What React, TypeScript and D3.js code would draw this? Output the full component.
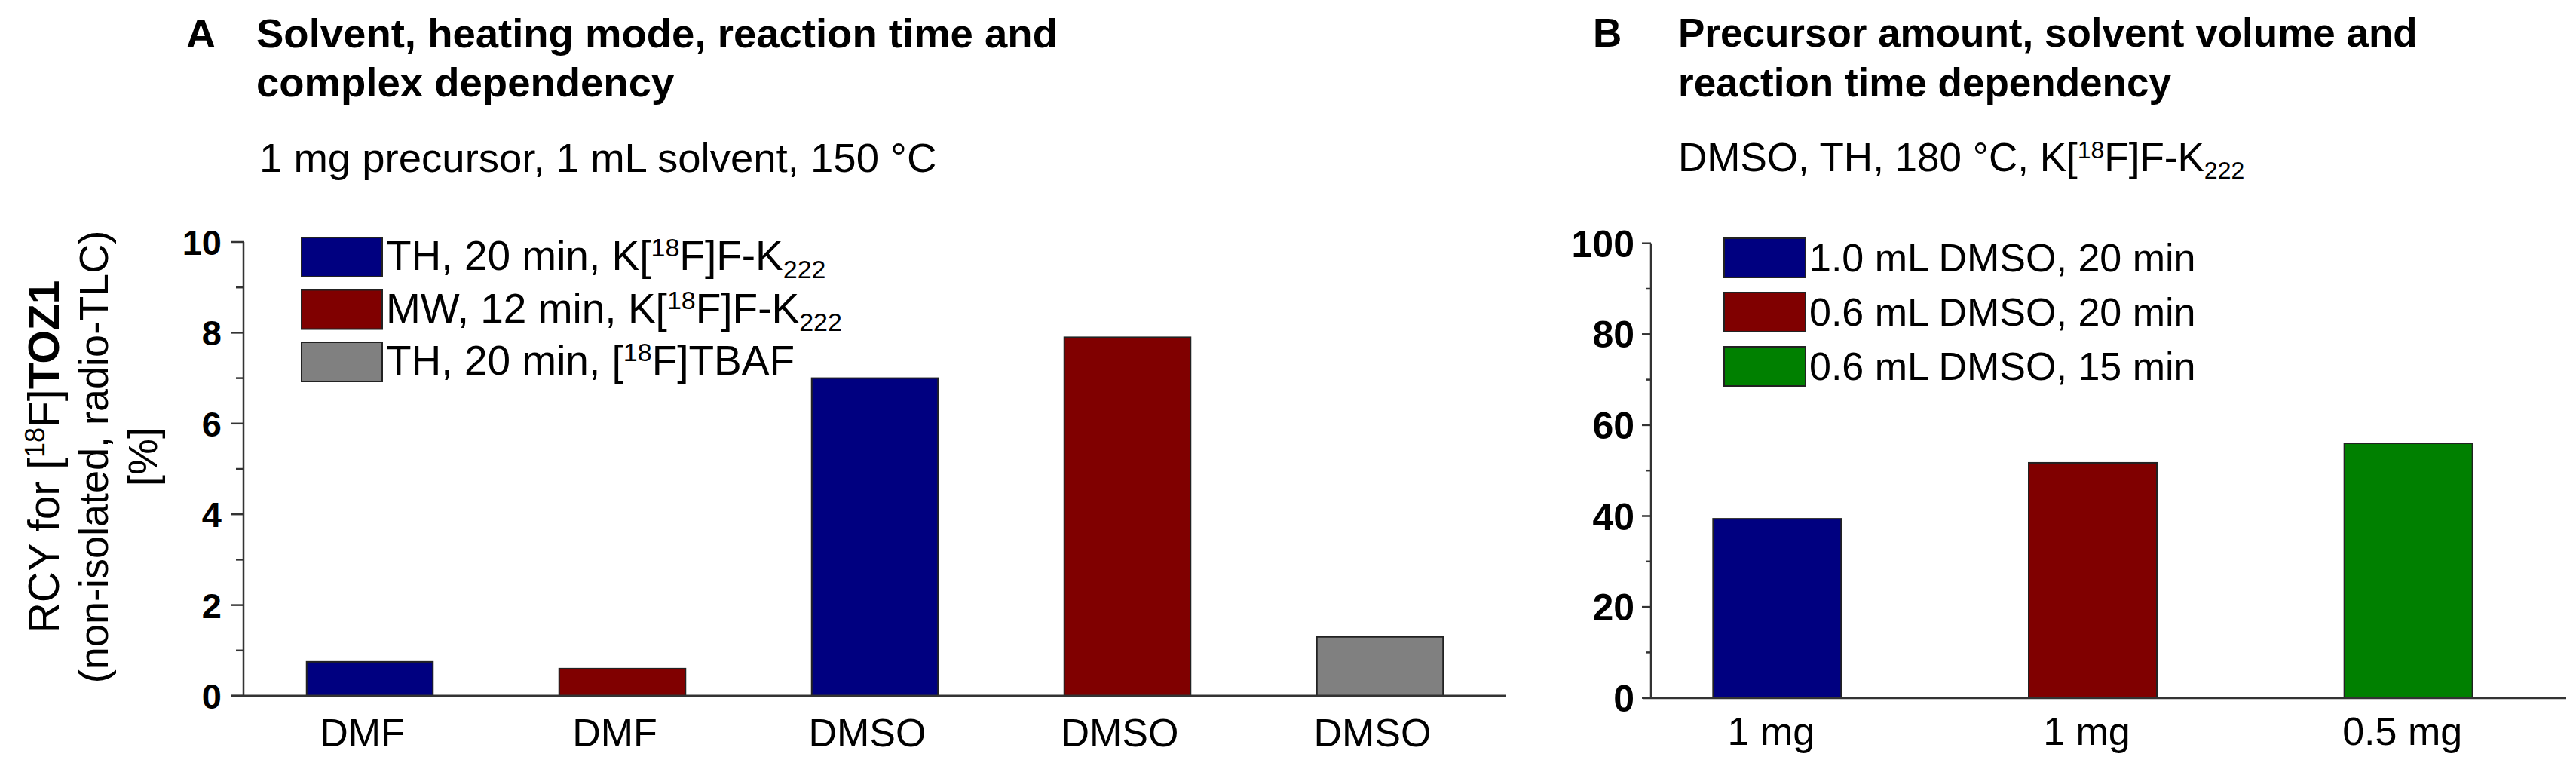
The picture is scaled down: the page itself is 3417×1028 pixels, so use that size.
import React from "react";
import * as d3 from "d3";

const FONT = "'Liberation Sans', Arial, Helvetica, sans-serif";

// Panel A data
const catsA = ["DMF", "DMF", "DMSO", "DMSO", "DMSO"];
const seriesIdxA = [0, 1, 0, 1, 2];
const valuesA = [0.75, 0.6, 7.0, 7.9, 1.3];
const colorsA = ["#000080", "#800000", "#808080"];
const ticksA = [0, 2, 4, 6, 8, 10];
const minorTicksA = [1, 3, 5, 7, 9];

// Panel B data
const catsB = ["1 mg", "1 mg", "0.5 mg"];
const seriesIdxB = [0, 1, 2];
const valuesB = [39.4, 51.7, 56.0];
const colorsB = ["#000080", "#800000", "#008000"];
const legendB = ["1.0 mL DMSO, 20 min", "0.6 mL DMSO, 20 min", "0.6 mL DMSO, 15 min"];
const ticksB = [0, 20, 40, 60, 80, 100];
const minorTicksB = [10, 30, 50, 70, 90];

const AX = "#333";

function LegendA({ x, y }: { x: number; y: number }) {
  const rows = [
    (
      <>
        TH, 20 min, K[<tspan dy={-18} fontSize={34}>18</tspan>
        <tspan dy={18}>F]F-K</tspan>
        <tspan dy={11} fontSize={34}>222</tspan>
      </>
    ),
    (
      <>
        MW, 12 min, K[<tspan dy={-18} fontSize={34}>18</tspan>
        <tspan dy={18}>F]F-K</tspan>
        <tspan dy={11} fontSize={34}>222</tspan>
      </>
    ),
    (
      <>
        TH, 20 min, [<tspan dy={-18} fontSize={34}>18</tspan>
        <tspan dy={18}>F]TBAF</tspan>
      </>
    ),
  ];
  return (
    <g>
      {rows.map((r, i) => (
        <g key={i}>
          <rect x={x} y={y + i * 69.5} width={107} height={52} fill={colorsA[i]} stroke="#222" strokeWidth={2} />
          <text x={x + 112} y={y + i * 69.5 + 43} fontSize={55} fontFamily={FONT} fill="#000">
            {r}
          </text>
        </g>
      ))}
    </g>
  );
}

export default function App() {
  // Panel A scales
  const xA = d3.scaleBand<number>().domain(d3.range(catsA.length)).range([323, 1998]).paddingInner(0.5).paddingOuter(0.25);
  const yA = d3.scaleLinear().domain([0, 10]).range([923, 321]);
  // Panel B scales
  const xB = d3.scaleBand<number>().domain(d3.range(catsB.length)).range([2148, 3404]).paddingInner(0.594).paddingOuter(0.297);
  const yB = d3.scaleLinear().domain([0, 100]).range([925.7, 322.7]);

  return (
    <svg width={3417} height={1028} style={{ position: "absolute", left: 0, top: 0, background: "#fff" }} fontFamily={FONT}>
      <rect x={0} y={0} width={3417} height={1028} fill="#fff" />

      {/* Panel A titles */}
      <text x={247} y={63} fontSize={54} fontWeight="bold">A</text>
      <text x={340} y={63} fontSize={54.5} fontWeight="bold">Solvent, heating mode, reaction time and</text>
      <text x={340} y={128} fontSize={54.5} fontWeight="bold">complex dependency</text>
      <text x={344} y={228} fontSize={54.5}>1 mg precursor, 1 mL solvent, 150 °C</text>

      {/* Panel A y-axis title */}
      <g transform="translate(78,606) rotate(-90)">
        <text textAnchor="middle" fontSize={57}>
          RCY for [<tspan dy={-19} fontSize={36}>18</tspan>
          <tspan dy={19}>F]</tspan>
          <tspan fontWeight="bold">TOZ1</tspan>
        </text>
      </g>
      <g transform="translate(143,606) rotate(-90)">
        <text textAnchor="middle" fontSize={54}>(non-isolated, radio-TLC)</text>
      </g>
      <g transform="translate(208,606) rotate(-90)">
        <text textAnchor="middle" fontSize={54}>[%]</text>
      </g>

      {/* Panel A bars */}
      {valuesA.map((v, i) => (
        <rect
          key={i}
          x={xA(i)!}
          y={yA(v)}
          width={xA.bandwidth()}
          height={yA(0) - yA(v)}
          fill={colorsA[seriesIdxA[i]]}
          stroke="#222"
          strokeWidth={2}
        />
      ))}

      {/* Panel A axes */}
      <line x1={323} x2={323} y1={yA(10)} y2={yA(0)} stroke={AX} strokeWidth={2.5} />
      <line x1={307} x2={1998} y1={yA(0)} y2={yA(0)} stroke={AX} strokeWidth={3} />
      {ticksA.map((t) => (
        <g key={t}>
          <line x1={307} x2={323} y1={yA(t)} y2={yA(t)} stroke={AX} strokeWidth={2.5} />
          <text x={294} y={yA(t)} dy="0.36em" textAnchor="end" fontSize={47} fontWeight="bold">{t}</text>
        </g>
      ))}
      {minorTicksA.map((t) => (
        <line key={t} x1={313} x2={323} y1={yA(t)} y2={yA(t)} stroke={AX} strokeWidth={2.5} />
      ))}
      {catsA.map((c, i) => (
        <text key={i} x={xA(i)! + xA.bandwidth() / 2 - 10} y={990} textAnchor="middle" fontSize={52}>{c}</text>
      ))}

      <LegendA x={400} y={315} />

      {/* Panel B titles */}
      <text x={2113} y={62} fontSize={53} fontWeight="bold">B</text>
      <text x={2226} y={62} fontSize={53} fontWeight="bold">Precursor amount, solvent volume and</text>
      <text x={2226} y={128} fontSize={53} fontWeight="bold">reaction time dependency</text>
      <text x={2226} y={227} fontSize={53}>
        DMSO, TH, 180 °C, K[<tspan dy={-17} fontSize={32}>18</tspan>
        <tspan dy={17}>F]F-K</tspan>
        <tspan dy={10} fontSize={32}>222</tspan>
      </text>

      {/* Panel B bars */}
      {valuesB.map((v, i) => (
        <rect
          key={i}
          x={xB(i)!}
          y={yB(v)}
          width={xB.bandwidth()}
          height={yB(0) - yB(v)}
          fill={colorsB[seriesIdxB[i]]}
          stroke="#222"
          strokeWidth={2}
        />
      ))}

      {/* Panel B axes */}
      <line x1={2190} x2={2190} y1={yB(100)} y2={yB(0)} stroke={AX} strokeWidth={2.5} />
      <line x1={2179} x2={3404} y1={yB(0)} y2={yB(0)} stroke={AX} strokeWidth={3} />
      {ticksB.map((t) => (
        <g key={t}>
          <line x1={2178} x2={2190} y1={yB(t)} y2={yB(t)} stroke={AX} strokeWidth={2.5} />
          <text x={2168} y={yB(t)} dy="0.36em" textAnchor="end" fontSize={50} fontWeight="bold">{t}</text>
        </g>
      ))}
      {minorTicksB.map((t) => (
        <line key={t} x1={2183} x2={2190} y1={yB(t)} y2={yB(t)} stroke={AX} strokeWidth={2.5} />
      ))}
      {catsB.map((c, i) => (
        <text key={i} x={xB(i)! + xB.bandwidth() / 2 - 8} y={988} textAnchor="middle" fontSize={52}>{c}</text>
      ))}

      {/* Panel B legend */}
      {legendB.map((l, i) => (
        <g key={i}>
          <rect x={2287} y={316 + i * 72} width={108} height={52} fill={colorsB[i]} stroke="#222" strokeWidth={2} />
          <text x={2400} y={316 + i * 72 + 44} fontSize={52}>{l}</text>
        </g>
      ))}
    </svg>
  );
}
